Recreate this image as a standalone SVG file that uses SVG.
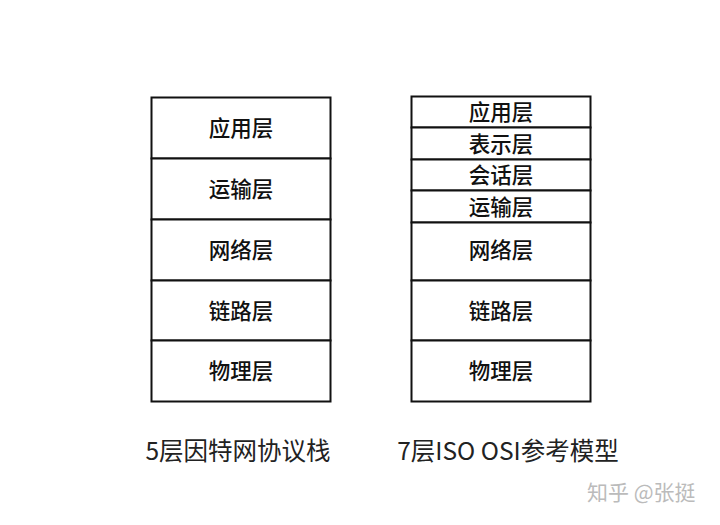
<svg xmlns="http://www.w3.org/2000/svg" width="720" height="525" viewBox="0 0 720 525">
<style>
.box{fill:#fff;stroke:#111;stroke-width:2}
.lbl{font-family:"Noto Sans CJK SC","Noto Sans",sans-serif;font-size:21.5px;font-weight:500;fill:#111;text-anchor:middle;dominant-baseline:central}
.cap{font-family:"Noto Sans CJK SC","Noto Sans",sans-serif;font-size:24.5px;fill:#222;text-anchor:middle}
.wm{font-family:"Noto Sans CJK SC","Noto Sans",sans-serif;font-size:21px;fill:#bbb}
</style>
<rect width="720" height="525" fill="#fff"/>
<g id="stack5">
<g id="l5-app"><rect class="box" x="151.5" y="97.5" width="179" height="61"/><text class="lbl" x="241" y="126">应用层</text></g>
<g id="l5-trans"><rect class="box" x="151.5" y="158.5" width="179" height="61"/><text class="lbl" x="241" y="187">运输层</text></g>
<g id="l5-net"><rect class="box" x="151.5" y="219.5" width="179" height="61"/><text class="lbl" x="241" y="248">网络层</text></g>
<g id="l5-link"><rect class="box" x="151.5" y="280.5" width="179" height="60"/><text class="lbl" x="241" y="309">链路层</text></g>
<g id="l5-phys"><rect class="box" x="151.5" y="340.5" width="179" height="61"/><text class="lbl" x="241" y="369">物理层</text></g>
</g>
<g id="stack7">
<g id="l7-app"><rect class="box" x="411.5" y="96.5" width="179" height="31"/><text class="lbl" x="501" y="110.5">应用层</text></g>
<g id="l7-pres"><rect class="box" x="411.5" y="127.5" width="179" height="32"/><text class="lbl" x="501" y="142">表示层</text></g>
<g id="l7-sess"><rect class="box" x="411.5" y="159.5" width="179" height="31"/><text class="lbl" x="501" y="173.5">会话层</text></g>
<g id="l7-trans"><rect class="box" x="411.5" y="190.5" width="179" height="32"/><text class="lbl" x="501" y="205">运输层</text></g>
<g id="l7-net"><rect class="box" x="411.5" y="222.5" width="179" height="58"/><text class="lbl" x="501" y="248">网络层</text></g>
<g id="l7-link"><rect class="box" x="411.5" y="280.5" width="179" height="60"/><text class="lbl" x="501" y="309">链路层</text></g>
<g id="l7-phys"><rect class="box" x="411.5" y="340.5" width="179" height="61"/><text class="lbl" x="501" y="369">物理层</text></g>
</g>
<g id="connectors"/>
<text class="cap" x="238" y="460">5层因特网协议栈</text>
<text class="cap" x="508" y="460">7层ISO OSI参考模型</text>
<text class="wm" x="587" y="500">知乎 @张挺</text>
</svg>
